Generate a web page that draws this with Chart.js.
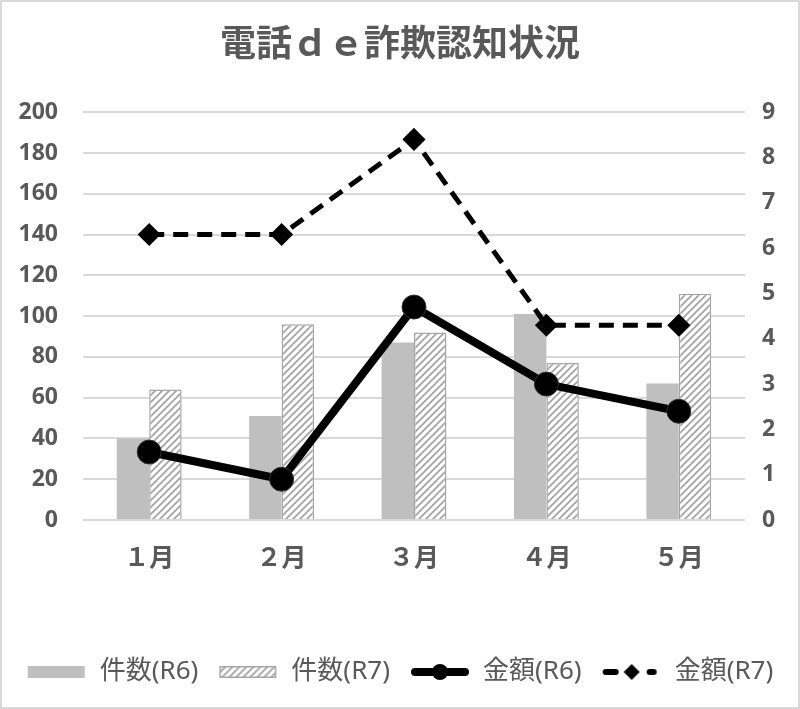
<!DOCTYPE html>
<html><head><meta charset="utf-8">
<script src="https://cdn.jsdelivr.net/npm/chart.js@4.4.1/dist/chart.umd.min.js"></script>
<style>html,body{margin:0;padding:0;background:#fff;}canvas{display:block;}</style>
</head><body>
<canvas id="c" width="800" height="709"></canvas>
<script>
const titleText = '電話ｄｅ詐欺認知状況';
const categories = ['１月','２月','３月','４月','５月'];
const countR6 = [40, 51, 87, 101, 67];
const countR7 = [64, 96, 92, 77, 111];
const amountR6 = [1.5, 0.9, 4.7, 3.0, 2.4];
const amountR7 = [6.3, 6.3, 8.4, 4.3, 4.3];
const seriesNames = ['件数(R6)','件数(R7)','金額(R6)','金額(R7)'];

const GRAY = '#bfbfbf', HATCH = '#a6a6a6', TEXT = '#595959';
const FONT = "'Noto Sans', 'Noto Sans CJK JP', sans-serif";

function hatchPattern() {
  const p = document.createElement('canvas'); p.width = 7; p.height = 7;
  const g = p.getContext('2d');
  g.fillStyle = '#fff'; g.fillRect(0,0,7,7);
  g.strokeStyle = HATCH; g.lineWidth = 1.9;
  g.beginPath();
  g.moveTo(-1,8); g.lineTo(8,-1);
  g.moveTo(-1,1); g.lineTo(1,-1);
  g.moveTo(6,8); g.lineTo(8,6);
  g.stroke();
  return document.getElementById('c').getContext('2d').createPattern(p,'repeat');
}
const pattern = hatchPattern();

function legendIcon(kind) {
  const c = document.createElement('canvas'); c.width = 60; c.height = 24;
  const g = c.getContext('2d');
  if (kind === 0) { g.fillStyle = GRAY; g.fillRect(1,6,57,12); }
  else if (kind === 1) {
    g.fillStyle = pattern; g.fillRect(1,6,57,12);
    g.strokeStyle = HATCH; g.lineWidth = 1.5; g.strokeRect(1.75,6.75,55.5,10.5);
  } else if (kind === 2) {
    g.strokeStyle = '#000'; g.lineWidth = 8; g.lineCap = 'round';
    g.beginPath(); g.moveTo(5,12); g.lineTo(55,12); g.stroke();
    g.fillStyle = '#000'; g.beginPath(); g.arc(30,12,8,0,Math.PI*2); g.fill();
  } else {
    g.strokeStyle = '#000'; g.lineWidth = 6; g.lineCap = 'round';
    g.beginPath(); g.moveTo(4,12); g.lineTo(14,12); g.moveTo(48,12); g.lineTo(52,12); g.stroke();
    g.fillStyle = '#000'; g.beginPath();
    g.moveTo(30,4); g.lineTo(38,12); g.lineTo(30,20); g.lineTo(22,12); g.closePath(); g.fill();
  }
  return c;
}
const icons = [0,1,2,3].map(legendIcon);

const framePlugin = {
  id: 'frame',
  beforeDraw(chart) {
    const g = chart.ctx;
    g.save(); g.fillStyle = '#fff'; g.fillRect(0,0,chart.width,chart.height);
    g.restore();
  },
  afterDraw(chart) {
    const g = chart.ctx;
    g.save(); g.strokeStyle = '#d9d9d9'; g.lineWidth = 2;
    g.strokeRect(1,1,chart.width-2,chart.height-2); g.restore();
  }
};

new Chart(document.getElementById('c'), {
  data: {
    labels: categories,
    datasets: [
      { type:'line', label: seriesNames[2], data: amountR6, yAxisID:'y1', order:1,
        borderColor:'#000', borderWidth:8, pointRadius:12, pointHoverRadius:12,
        pointBackgroundColor:'#000', pointBorderColor:'#333', pointBorderWidth:1, tension:0 },
      { type:'line', label: seriesNames[3], data: amountR7, yAxisID:'y1', order:0,
        borderColor:'#000', borderWidth:5, borderDash:[15,9], pointStyle:'rectRot',
        pointRadius:8, pointHoverRadius:8, pointBackgroundColor:'#000', pointBorderColor:'#000', tension:0 },
      { type:'bar', label: seriesNames[0], data: countR6, yAxisID:'y', order:2,
        backgroundColor: GRAY, borderWidth:0, categoryPercentage:0.49, barPercentage:1 },
      { type:'bar', label: seriesNames[1], data: countR7, yAxisID:'y', order:2,
        backgroundColor: pattern, borderColor: HATCH, borderWidth:1.5, categoryPercentage:0.49, barPercentage:1 }
    ]
  },
  options: {
    responsive:false, animation:false, devicePixelRatio:1,
    layout:{ padding:{ left:0, right:0, top:0, bottom:14 } },
    plugins:{
      tooltip:{enabled:false},
      title:{ display:true, text:titleText, color:TEXT,
        font:{ family:FONT, size:36, weight:'bold', lineHeight:1.2 }, padding:{ top:24, bottom:45 } },
      legend:{ position:'bottom',
        labels:{ usePointStyle:true, pointStyleWidth:60, boxHeight:24, padding:20, color:TEXT,
          font:{ family:FONT, size:26 },
          generateLabels(chart){
            return [0,1,2,3].map(i => ({ text: seriesNames[i], pointStyle: icons[i],
              fillStyle:'#000', strokeStyle:'#000', lineWidth:0, hidden:false,
              datasetIndex: [2,3,0,1][i], fontColor: TEXT }));
          } } }
    },
    scales:{
      x:{ grid:{ display:false, drawTicks:false }, border:{ display:false },
        ticks:{ color:TEXT, padding:24, font:{ family:FONT, size:25, weight:'bold' } },
        afterFit(s){ s.height = 119; } },
      y:{ position:'left', min:0, max:200, grid:{ color:'#d9d9d9', lineWidth:2, drawTicks:false },
        border:{ display:false },
        ticks:{ stepSize:20, color:TEXT, padding:25, font:{ family:FONT, size:23, weight:'bold' } },
        afterFit(s){ s.width = 83; } },
      y1:{ position:'right', min:0, max:9, grid:{ display:false, drawTicks:false },
        border:{ display:false },
        ticks:{ stepSize:1, color:TEXT, padding:17, font:{ family:FONT, size:23, weight:'bold' } },
        afterFit(s){ s.width = 55; } }
    }
  },
  plugins:[framePlugin]
});
</script>
</body></html>
